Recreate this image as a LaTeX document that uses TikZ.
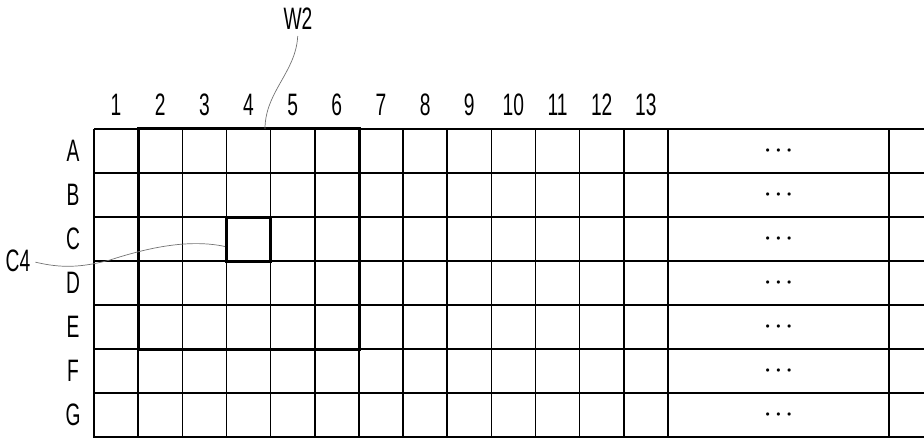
\documentclass[tikz,border=0pt]{standalone}
\usepackage{fontspec}
\setmainfont{Liberation Sans}[FakeStretch=0.62]
\usepackage{tikz}
\usetikzlibrary{calc}

\tikzset{
  lbl/.style={font=\fontsize{31}{31}\selectfont, inner sep=0pt},
  dotlbl/.style={font=\fontsize{8}{8}\selectfont, inner sep=0pt},
  gridline/.style={line width=1.5pt},
  winbox/.style={draw, line width=3pt, inner sep=0pt},
  leader/.style={black!55, line width=0.7pt},
}

\begin{document}
\begin{tikzpicture}[x=1pt,y=-1pt]
\useasboundingbox (0,0) rectangle (924,438);

% Grid lines
\foreach \i in {0,...,13}
  \draw[gridline] ({94+44.15*\i},129) -- ({94+44.15*\i},438);
\draw[gridline] (889,129) -- (889,438);
\foreach \j in {0,...,7}
  \draw[gridline] (94,{129+44*\j}) -- (924,{129+44*\j});

% Column and row labels
\foreach \i in {1,...,13}
  \node[lbl] (col\i) at ({94+44.15*(\i-0.5)},105) {\i};
\foreach \r [count=\j] in {A,B,C,D,E,F,G}
  \node[lbl] (row\r) at (73,{129+44*(\j-0.5)}) {\r};

% Dots in the wide column
\foreach \j in {1,...,7}
  \node[dotlbl] (dots\j) at (778.5,{129+44*(\j-0.5)})
    {$\bullet$\hspace{6.5pt}$\bullet$\hspace{6.5pt}$\bullet$};

% Window W2 and cell C4
\node[winbox, minimum width=221pt, minimum height=221pt] (w2box) at (248.5,239.5) {};
\node[winbox, minimum width=44pt, minimum height=44pt] (c4box) at (248.5,239.5) {};

% Leader lines
\node[lbl] (W2) at (298,19) {W2};
\coordinate (w2tip) at (265,129);
\draw[leader, shorten <=6pt] (W2.south) .. controls (296,72) and (265,92) .. (w2tip);

\node[lbl] (C4) at (18,261) {C4};
\coordinate (c4tip) at ($(c4box.west)+(0,7)$);
\draw[leader, shorten <=5pt] (C4.east) .. controls (60,268) and (80,268) .. (110,260)
  .. controls (150,247) and (190,239) .. (c4tip);

\end{tikzpicture}
\end{document}
